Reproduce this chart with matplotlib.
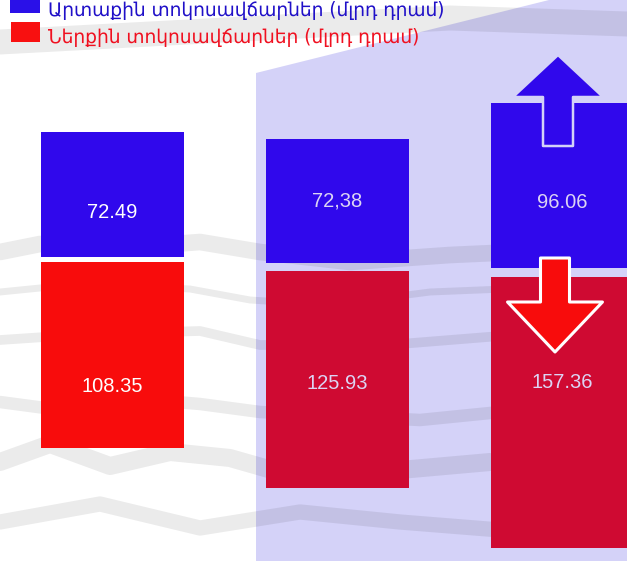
import numpy as np
import matplotlib
matplotlib.use("Agg")
import matplotlib.pyplot as plt
from matplotlib.patches import Polygon, Rectangle, FancyArrow

# Տվյալներ (մլրդ դրամ)
years = ["I", "II", "III"]
external = [72.49, 72.38, 96.06]
domestic = [108.35, 125.93, 157.36]
external_labels = ["72.49", "72,38", "96.06"]
domestic_labels = ["108.35", "125.93", "157.36"]

legend_ext = "Արտաքին տոկոսավճարներ (մլրդ դրամ)"
legend_dom = "Ներքին տոկոսավճարներ (մլրդ դրամ)"

W, H = 627, 561
BLUE = "#3008ec"
RED_1 = "#f80c0c"
RED_2 = "#cf0a32"
LAVENDER = "#d4d2f8"

fig = plt.figure(figsize=(W / 100, H / 100), dpi=100)

# фон в пикселях
bg = fig.add_axes([0, 0, 1, 1])
bg.set_xlim(0, W)
bg.set_ylim(H, 0)
bg.axis("off")
bg.add_patch(Polygon([(256, 73), (549, 0), (W, 0), (W, H), (256, H)],
                     closed=True, color=LAVENDER, lw=0, zorder=1))

# декоративные серые полосы (фон-карта)
strokes = [
    ([0, 40, 120, 200, 260, 350, 450, 560, 627], [252, 244, 248, 242, 252, 262, 255, 250, 245], 12),
    ([0, 80, 190, 250, 330, 430, 627], [292, 284, 289, 300, 305, 292, 284], 5),
    ([0, 90, 200, 260, 400, 500, 627], [340, 334, 331, 345, 344, 336, 340], 7),
    ([0, 60, 130, 200, 260, 420, 520, 627], [402, 410, 398, 404, 412, 420, 410, 420], 9),
    ([0, 50, 110, 170, 230, 300, 400, 490], [462, 444, 466, 452, 458, 478, 470, 462], 13),
    ([0, 100, 200, 300, 400, 500, 627], [522, 504, 528, 512, 522, 530, 520], 11),
    ([0, 150, 300, 450, 627], [42, 34, 26, 18, 24], 18),
]
for xs, ys, lw in strokes:
    bg.plot(xs, ys, color="black", alpha=0.08, lw=lw,
            solid_capstyle="round", solid_joinstyle="round", zorder=2)

# столбцы
ax = fig.add_axes([0, 0, 1, 1])
ax.patch.set_alpha(0)
ax.axis("off")
k = 1.72         # пикселей на единицу
spacing = 225    # пикселей между центрами
x0 = 112
ax.set_xlim(-x0 / spacing, (W - x0) / spacing)
ax.set_ylim(-(H - 265) / k, 265 / k)

x = np.arange(len(years))
shift = [3.2, -1.2, -4.4]
gap = [1.5, 2.3, 2.6]
width = 143 / spacing
red_colors = [RED_1, RED_2, RED_2]
txt_colors = ["white", "#dcd4f4", "#dcd4f4"]
val_font = ["Liberation Sans", "DejaVu Sans"]
# где подпись стоит внутри столбца (доля высоты от верхнего края)
ext_pos = [0.64, 0.5, 0.6]
dom_pos = [0.67, 0.52, 0.39]

ax.bar(x, external, width=width, bottom=np.add(shift, gap), color=BLUE, zorder=3)
ax.bar(x, -np.array(domestic), width=width, bottom=np.subtract(shift, gap),
       color=red_colors, zorder=3)

for i in x:
    ax.text(i, shift[i] + gap[i] + external[i] * (1 - ext_pos[i]), external_labels[i],
            ha="center", va="center", color=txt_colors[i], fontsize=14.5,
            family=val_font, zorder=5)
    ax.text(i, shift[i] - gap[i] - domestic[i] * dom_pos[i], domestic_labels[i],
            ha="center", va="center", color=txt_colors[i], fontsize=14.5,
            family=val_font, zorder=5)

# стрелки и легенда поверх
fg = fig.add_axes([0, 0, 1, 1])
fg.patch.set_alpha(0)
fg.set_xlim(0, W)
fg.set_ylim(H, 0)
fg.axis("off")
fg.add_patch(FancyArrow(558, 146, 0, -91, width=30, head_width=90, head_length=42,
                        length_includes_head=True, fc=BLUE, ec=LAVENDER, lw=1.8,
                        joinstyle="round", zorder=6))
fg.add_patch(FancyArrow(555, 258, 0, 94, width=29, head_width=95, head_length=50,
                        length_includes_head=True, fc=RED_1, ec="white", lw=2.2,
                        joinstyle="round", zorder=6))

fg.add_patch(Rectangle((10, -8), 30, 21, color="#2a10e8", lw=0, zorder=6))
fg.add_patch(Rectangle((11, 22), 29, 20, color="#f81010", lw=0, zorder=6))
fg.text(48, 16, legend_ext, color="#2010c8", fontsize=13.4, va="baseline",
        family=["DejaVu Sans"], zorder=6)
fg.text(48, 43, legend_dom, color="#f01020", fontsize=13.4, va="baseline",
        family=["DejaVu Sans"], zorder=6)

fig.savefig("out.png", dpi=100)
